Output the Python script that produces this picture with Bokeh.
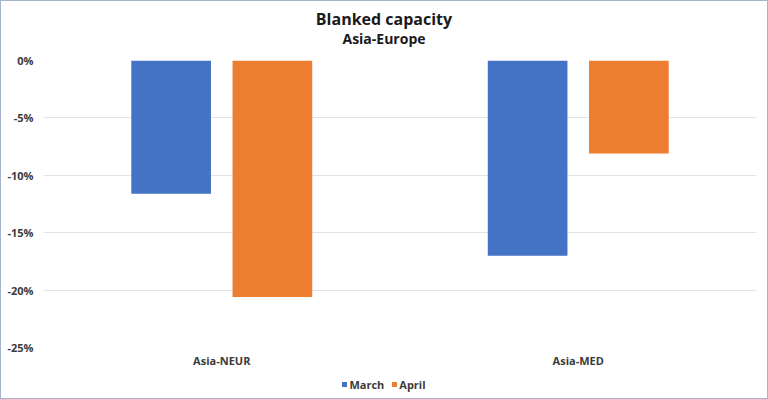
from bokeh.plotting import figure
from bokeh.models import (FactorRange, Range1d, FixedTicker, PrintfTickFormatter,
                          ColumnDataSource, Div)
from bokeh.layouts import column
from bokeh.transform import dodge
from bokeh.embed import file_html
from bokeh.resources import INLINE

# ---- data ----
title_text = "Blanked capacity"
subtitle_text = "Asia-Europe"
routes = ["Asia-NEUR", "Asia-MED"]
march = [-11.6, -17.0]
april = [-20.6, -8.1]
series_names = ["March", "April"]
series_colors = ["#4472C4", "#ED7D31"]
y_ticks = [-25, -20, -15, -10, -5, 0]

FONT = "Open Sans"
TXT = "#3b3b3b"

# ---- header (titles) ----
header = Div(
    text=(f"<div style=\"text-align:center;font-family:'Open Sans';font-weight:bold;color:#1a1a1a;width:766px;\">"
          f"<div style='font-size:16px;line-height:20px;padding-top:8px;'>{title_text}</div>"
          f"<div style='font-size:14px;line-height:18px;margin-top:1px;'>{subtitle_text}</div></div>"),
    width=766, height=51, margin=0, styles={"background": "white"})

# ---- main chart ----
src = ColumnDataSource(data=dict(route=routes, march=march, april=april))

p = figure(width=766, height=318, x_range=FactorRange(*routes, range_padding=0),
           y_range=Range1d(-25, 0), output_backend="svg", toolbar_location=None,
           min_border_left=42, min_border_right=11, min_border_top=8, min_border_bottom=23,
           margin=0)

p.vbar(x=dodge("route", -0.142, range=p.x_range), top="march", bottom=0, width=0.2235,
       source=src, color=series_colors[0], line_color=None, legend_label=series_names[0])
p.vbar(x=dodge("route", 0.142, range=p.x_range), top="april", bottom=0, width=0.2235,
       source=src, color=series_colors[1], line_color=None, legend_label=series_names[1])
p.legend.visible = False  # legend is drawn in the strip below the axis

p.yaxis.ticker = FixedTicker(ticks=y_ticks)
p.yaxis.formatter = PrintfTickFormatter(format="%d%%")
for ax in (p.xaxis[0], p.yaxis[0]):
    ax.axis_line_color = None
    ax.major_tick_line_color = None
    ax.minor_tick_line_color = None
    ax.major_tick_out = 0
    ax.major_tick_in = 0
    ax.minor_tick_out = 0
    ax.major_label_text_font = FONT
    ax.major_label_text_font_style = "bold"
    ax.major_label_text_font_size = "11px"
    ax.major_label_text_color = TXT
p.yaxis.major_label_standoff = 10
p.xaxis.major_label_standoff = 5

p.xgrid.grid_line_color = None
p.ygrid.grid_line_color = "#e3e3e3"
p.ygrid.grid_line_width = 1
p.outline_line_color = None
p.background_fill_color = "white"
p.border_fill_color = "white"

# ---- legend strip ----
items_html = "".join(
    f"<span style='display:inline-flex;align-items:center;margin:0 4px;'>"
    f"<span style='display:inline-block;width:5px;height:5px;background:{c};margin-right:2px;'></span>"
    f"{n}</span>"
    for n, c in zip(series_names, series_colors))
legend_div = Div(
    text=(f"<div style=\"width:766px;text-align:center;font-family:'Open Sans';font-weight:bold;"
          f"font-size:11px;line-height:16px;padding-top:5px;color:{TXT};\">{items_html}</div>"),
    width=766, height=28, margin=0, styles={"background": "white"})

layout = column(header, p, legend_div, spacing=0, margin=0,
                styles={"border": "1px solid #a3b4cc", "background": "white"})

open("out.html", "w").write(file_html(layout, INLINE))
